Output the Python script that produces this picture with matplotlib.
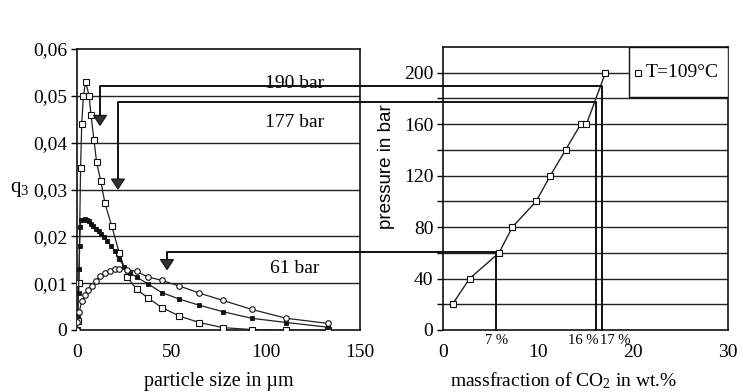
import matplotlib
matplotlib.use("Agg")
import matplotlib.pyplot as plt
from matplotlib.lines import Line2D
from matplotlib.patches import Polygon, Rectangle
from matplotlib.ticker import FixedLocator, FuncFormatter

plt.rcParams['font.family'] = ['Liberation Serif', 'DejaVu Serif']
plt.rcParams['mathtext.fontset'] = 'custom'
plt.rcParams['mathtext.rm'] = 'Liberation Serif'
plt.rcParams['mathtext.it'] = 'Liberation Serif:italic'

# ---------------- data ----------------
# left: particle size distributions q3
x_190 = [0, 0.3, 1.0, 1.9, 2.5, 3.4, 4.6, 6.4, 7.4, 9.0, 10.4, 12.6, 14.8, 18.4,
         22.4, 26.7, 31.6, 37.8, 44.9, 54.2, 64.7, 77.5, 92.6, 111, 133]
q_190 = [0, 0.002, 0.010, 0.0346, 0.044, 0.050, 0.053, 0.050, 0.046, 0.0405, 0.0358,
         0.0318, 0.0271, 0.0222, 0.0165, 0.0113, 0.0087, 0.0068, 0.0048, 0.0030,
         0.0016, 0.0005, 0.0001, 0.0, 0.0]

x_177 = [0, 0.4, 0.8, 1.1, 1.4, 1.7, 2.2, 3.2, 4.2, 5.2, 6.2, 7.4, 8.6, 10.0, 11.4,
         12.8, 14.4, 16.0, 18.0, 20.0, 22.5, 25.0, 28.0, 31.6, 37.8, 44.9, 54.2,
         64.7, 77.5, 92.6, 111, 133]
q_177 = [0, 0.003, 0.008, 0.013, 0.018, 0.022, 0.0235, 0.0235, 0.0238, 0.0235,
         0.0232, 0.0226, 0.0221, 0.0215, 0.0211, 0.0206, 0.0198, 0.0190, 0.0180,
         0.0168, 0.0151, 0.0135, 0.0122, 0.0113, 0.0098, 0.0080, 0.0066, 0.0053,
         0.0039, 0.0025, 0.0016, 0.0006]

x_61 = [0, 0.2, 1.2, 2.5, 4.2, 6.0, 7.8, 10.0, 12.2, 14.8, 17.5, 20.1, 22.4, 26.3,
        31.6, 37.8, 44.9, 54.2, 64.7, 77.5, 92.6, 111, 133]
q_61 = [0, 0.0018, 0.0039, 0.0061, 0.0075, 0.0086, 0.0095, 0.0104, 0.0115, 0.0122,
        0.0127, 0.0131, 0.0131, 0.0129, 0.0125, 0.0113, 0.0106, 0.0094, 0.0079,
        0.0063, 0.0044, 0.0025, 0.0014]

# right: pressure vs CO2 mass fraction
massfrac = [1.0, 2.8, 5.9, 7.3, 9.8, 11.3, 12.9, 14.5, 15.1, 17.1]
pressure = [20, 40, 60, 80, 100, 120, 140, 160, 160, 200]

# connectors
conn_pressure = [190, 177, 61]
conn_label = ['190 bar', '177 bar', '61 bar']
conn_frac = [16.7, 16.1, 5.6]
conn_frac_label = ['17 %', '16 %', '7 %']
arrow_x = [12.2, 21.7, 47.7]
arrow_tip = [0.0437, 0.0301, 0.0129]
label_y = [0.0527, 0.0443, 0.0132]

left_yticks = [0, 0.01, 0.02, 0.03, 0.04, 0.05, 0.06]
left_xticks = [0, 50, 100, 150]
right_xticks = [0, 10, 20, 30]
right_yticks = [0, 40, 80, 120, 160, 200]
right_grid = [20, 40, 60, 80, 100, 120, 140, 160, 180, 200]

# ---------------- figure ----------------
W, H = 743, 392
fig = plt.figure(figsize=(W / 100, H / 100), dpi=100)
ax1 = fig.add_axes([77 / W, 1 - 330 / H, (360 - 77) / W, (330 - 49) / H])
ax2 = fig.add_axes([443 / W, 1 - 330 / H, (728 - 443) / W, (330 - 47) / H])

fs = 14
for ax in (ax1, ax2):
    for s in ax.spines.values():
        s.set_linewidth(1.2)
        s.set_color('#111111')
    ax.tick_params(axis='x', length=0, pad=10, labelsize=fs)
    ax.tick_params(axis='y', length=4, width=1, pad=3, labelsize=fs, direction='out')

# left axes
ax1.set_xlim(0, 150)
ax1.set_ylim(0, 0.06)
ax1.set_xticks(left_xticks)
ax1.set_yticks(left_yticks)
ax1.yaxis.set_major_formatter(FuncFormatter(
    lambda v, p: '0' if abs(v) < 1e-9 else ('%.2f' % v).replace('.', ',')))
for yv in left_yticks[1:-1]:
    ax1.axhline(yv, color='#222222', lw=1.0, zorder=1)

ax1.plot(x_190, q_190, color='#222222', lw=0.9, marker='s', ms=3.8,
         mfc='white', mec='#111111', mew=0.8, zorder=3)
ax1.plot(x_177, q_177, color='#222222', lw=0.9, marker='s', ms=3.2,
         mfc='#111111', mec='#111111', mew=0.6, zorder=3)
ax1.plot(x_61, q_61, color='#222222', lw=0.9, marker='o', ms=4.0,
         mfc='white', mec='#111111', mew=0.8, zorder=3)
fig.text(219 / W, 1 - 386 / H, 'particle size in µm', fontsize=14.5,
         ha='center', va='baseline')
fig.text(10 / W, 1 - 190 / H, r'$\mathrm{q}_{3}$', fontsize=fs + 1,
         ha='left', va='center')

for lab, ly in zip(conn_label, label_y):
    ax1.text(115.5, ly, lab, fontsize=fs, ha='center', va='center', zorder=4)

# right axes
ax2.set_xlim(0, 30)
ax2.set_ylim(0, 220)
ax2.set_xticks(right_xticks)
ax2.set_yticks(right_yticks)
ax2.yaxis.set_minor_locator(FixedLocator([20, 60, 100, 140, 180]))
ax2.tick_params(axis='y', which='minor', length=4, width=1, direction='out')
for yv in right_grid:
    ax2.axhline(yv, color='#222222', lw=1.0, zorder=1)
ax2.plot(massfrac, pressure, color='#222222', lw=1.0, marker='s', ms=4.2,
         mfc='white', mec='#111111', mew=0.8, zorder=3)
fig.text(563 / W, 1 - 386 / H, r'massfraction of CO$_2$ in wt.%', fontsize=14,
         ha='center', va='baseline')
fig.text(387 / W, 1 - 167 / H, 'pressure in bar', fontsize=13.5,
         family='Liberation Sans', rotation=90, ha='center', va='center')

# legend box
ax2.add_patch(Rectangle((19.6, 181.5), 10.4, 38.5, facecolor='white',
                        edgecolor='#111111', lw=1.0, zorder=5))
ax2.plot([20.5], [200], marker='s', ms=4.2, mfc='white', mec='#111111',
         mew=0.8, zorder=6, ls='none')
ax2.text(21.3, 200, 'T=109°C', fontsize=fs, ha='left', va='center', zorder=6)

# percent labels
for m, lab in zip(conn_frac, conn_frac_label):
    if lab.startswith('16'):
        ha, dx = 'right', 0.3
    elif lab.startswith('17'):
        ha, dx = 'left', -0.2
    else:
        ha, dx = 'center', 0.0
    ax2.text(m + dx, -8, lab, fontsize=10.5, ha=ha, va='center', clip_on=False)

# connectors drawn in figure coordinates
to_fig = fig.transFigure.inverted()
for p, m, ax_, tip in zip(conn_pressure, conn_frac, arrow_x, arrow_tip):
    bx, by = ax2.transData.transform((m, p))
    _, y0 = ax2.transData.transform((m, 0))
    cx, _ = ax1.transData.transform((ax_, 0))
    _, ty = ax1.transData.transform((0, tip))
    ah = 10
    pts = [(cx, ty + ah), (cx, by), (bx, by), (bx, y0)]
    fpts = to_fig.transform(pts)
    fig.add_artist(Line2D(fpts[:, 0], fpts[:, 1], transform=fig.transFigure,
                          color='#111111', lw=1.4, zorder=4))
    tri = to_fig.transform([(cx - 6.5, ty + ah), (cx + 6.5, ty + ah), (cx, ty)])
    fig.add_artist(Polygon(tri, closed=True, transform=fig.transFigure,
                           facecolor='#333333', edgecolor='#111111', lw=0.8,
                           zorder=4))

fig.savefig('out.png', dpi=100, facecolor='white')
